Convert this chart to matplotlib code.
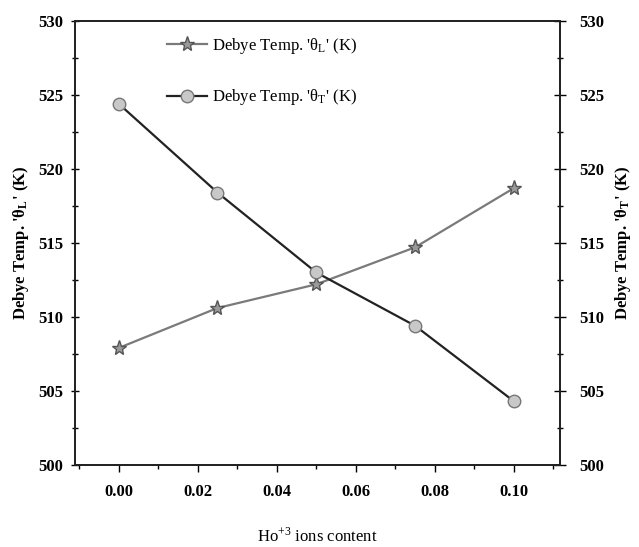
import matplotlib
matplotlib.use("Agg")
import matplotlib.pyplot as plt
from matplotlib.ticker import MultipleLocator

plt.rcParams['font.family'] = ['Liberation Serif', 'DejaVu Serif']
plt.rcParams['mathtext.fontset'] = 'stix'

ho_content = [0.0, 0.025, 0.05, 0.075, 0.10]
theta_L = [507.9, 510.6, 512.2, 514.7, 518.7]
theta_T = [524.4, 518.4, 513.0, 509.4, 504.3]

label_L = "Debye Temp. '\u03b8$_{\\mathregular{L}}$' (K)"
label_T = "Debye Temp. '\u03b8$_{\\mathregular{T}}$' (K)"

fig = plt.figure(figsize=(6.39, 5.47), dpi=100)
ax = fig.add_axes([0.117, 0.150, 0.759, 0.812])
ax2 = ax.twinx()

l1, = ax.plot(ho_content, theta_L, color='#7a7a7a', lw=1.6, marker='*',
              markersize=11, markerfacecolor='#9a9a9a', markeredgecolor='#555555',
              label=label_L, zorder=3)
l2, = ax2.plot(ho_content, theta_T, color='#222222', lw=1.6, marker='o',
               markersize=9, markerfacecolor='#c8c8c8', markeredgecolor='#777777',
               label=label_T, zorder=3)

for a in (ax, ax2):
    a.set_ylim(500, 530)
    a.yaxis.set_major_locator(MultipleLocator(5))
    a.yaxis.set_minor_locator(MultipleLocator(2.5))
ax.set_xlim(-0.0111, 0.1116)
ax.xaxis.set_major_locator(MultipleLocator(0.02))
ax.xaxis.set_minor_locator(MultipleLocator(0.01))
ax.xaxis.set_major_formatter(matplotlib.ticker.FormatStrFormatter('%.2f'))

ax.tick_params(axis='x', which='major', direction='out', length=5, width=1,
               labelsize=12, pad=9)
ax.tick_params(axis='x', which='minor', direction='out', length=3, width=1)
ax.tick_params(axis='y', which='major', direction='inout', length=6, width=1,
               labelsize=12, pad=5.5)
ax.tick_params(axis='y', which='minor', direction='inout', length=4, width=1)
ax2.tick_params(axis='y', which='major', direction='inout', length=8, width=1,
                labelsize=12, pad=10)
ax2.tick_params(axis='y', which='minor', direction='inout', length=5, width=1)

for lab in ax.get_xticklabels() + ax.get_yticklabels() + ax2.get_yticklabels():
    lab.set_fontweight('bold')

for a in (ax, ax2):
    for s in a.spines.values():
        s.set_linewidth(1.3)
        s.set_color('#222222')

ax.set_xlabel("Ho$^{\\mathregular{+3}}$ ions content", fontsize=12, labelpad=19)
ax.set_ylabel(label_L, fontsize=12, fontweight='bold', labelpad=5)
ax2.set_ylabel(label_T, fontsize=12, fontweight='bold', labelpad=6)

leg = ax.legend(handles=[l1, l2], loc='upper left', bbox_to_anchor=(0.16, 1.0),
                frameon=False, fontsize=12, labelspacing=1.9, handlelength=2.4,
                handletextpad=0.3)

fig.savefig('out.png', dpi=100)
